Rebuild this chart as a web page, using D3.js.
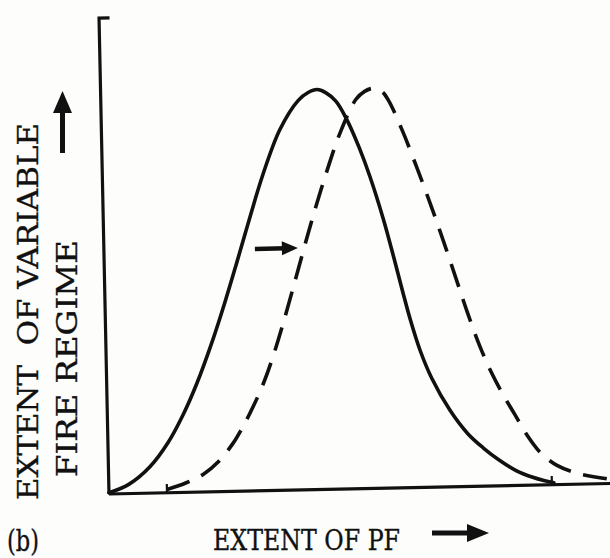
<!DOCTYPE html>
<html>
<head>
<meta charset="utf-8">
<script src="https://cdn.jsdelivr.net/npm/d3@7"></script>
<style>
  html, body { margin: 0; padding: 0; background: #fdfdfc; }
  svg { display: block; }
  text { font-family: "DejaVu Serif", "Liberation Serif", serif; fill: #111; stroke: #111; stroke-width: 0.35; white-space: pre; }
</style>
</head>
<body>
<svg id="chart" width="610" height="558"></svg>
<script>
// --- data (x: extent of PF, y: extent of variable fire regime, both 0..100)

// solid curve (present)
const solidX = [0, 4, 8.3, 12, 15.1, 18, 21.4, 24, 26.5, 29.4, 32.1, 35.7, 39.5, 41.5, 43.3, 45, 47, 49.1, 51.5, 53.5, 56, 58, 59.6, 61, 62.8, 65, 68.6, 72, 75, 78, 81.7, 84.5, 87, 89];
const solidY = [0.3, 2.3, 6.6, 12.5, 19.3, 27.1, 38, 47.4, 57.1, 68.7, 79, 90.2, 97.4, 99.3, 100, 99.2, 97, 92.4, 85.2, 78, 67.3, 57.3, 48.9, 41.9, 34.3, 27.3, 19, 13.2, 9.6, 6.6, 3.6, 2.1, 1.1, 0.5];

// dashed curve (shifted)
const dashX = [11.6, 15.5, 18.9, 22, 25, 27, 29.2, 31.5, 33.4, 35.5, 38, 40, 42, 44.9, 47.7, 51, 52.8, 54.5, 56.2, 57.5, 60.3, 63, 65.4, 67.9, 70.5, 72.5, 74.8, 77, 79.2, 81.5, 83.8, 86.5, 89.7, 94.2, 99.6];
const dashY = [0.8, 2.4, 4.4, 7.5, 12, 16, 21.1, 27.3, 33.6, 41.6, 51.9, 60.3, 68.5, 79.5, 89, 97.3, 99.3, 100, 99.2, 97, 88.9, 79.7, 71.1, 61.6, 51.2, 43.2, 34.9, 28.3, 22.8, 17.7, 12.6, 8, 4.8, 2.55, 1.2];

// small marks on the x axis where the curves start / end
const endTicks = [11.6, 88.6];

// shift arrow between the curves
const shiftArrow = { x0: 30.2, x1: 38.8, y: 60.5 };

const xLabel = "EXTENT OF PF";
const yLabel1 = "EXTENT  OF VARIABLE";
const yLabel2 = "FIRE REGIME";
const panelLabel = "(b)";

// --- layout
const svg = d3.select("#chart");
const origin = { x: 109, y: 494 };
const tilt = -1.2; // the scan is slightly rotated

const x = d3.scaleLinear().domain([0, 100]).range([0, 500]);
const y = d3.scaleLinear().domain([0, 100]).range([0, -400]);

const plot = svg.append("g")
    .attr("transform", `translate(${origin.x},${origin.y}) rotate(${tilt})`);

// axes
plot.append("line")
    .attr("x1", x(0)).attr("y1", y(0))
    .attr("x2", x(102)).attr("y2", y(0))
    .attr("stroke", "#111").attr("stroke-width", 3.2);

plot.append("path")
    .attr("d", `M${x(2.1)},${y(119)} L${x(0)},${y(119)} L${x(0)},${y(0)}`)
    .attr("fill", "none")
    .attr("stroke", "#111").attr("stroke-width", 3.2);

plot.selectAll("line.endtick")
    .data(endTicks)
    .enter()
    .append("line")
    .attr("class", "endtick")
    .attr("x1", d => x(d)).attr("x2", d => x(d))
    .attr("y1", y(0)).attr("y2", y(2.2))
    .attr("stroke", "#111").attr("stroke-width", 2.2);

// curves
const line = d3.line()
    .x(d => x(d[0]))
    .y(d => y(d[1]))
    .curve(d3.curveCatmullRom.alpha(0.5));

plot.append("path")
    .datum(d3.zip(solidX, solidY))
    .attr("d", line)
    .attr("fill", "none")
    .attr("stroke", "#111")
    .attr("stroke-width", 3.6)
    .attr("stroke-linecap", "round");

plot.append("path")
    .datum(d3.zip(dashX, dashY))
    .attr("d", line)
    .attr("fill", "none")
    .attr("stroke", "#111")
    .attr("stroke-width", 3.6)
    .attr("stroke-dasharray", "24,13");

// shift arrow
const ax0 = x(shiftArrow.x0), ax1 = x(shiftArrow.x1), ay = y(shiftArrow.y);
plot.append("line")
    .attr("x1", ax0).attr("y1", ay)
    .attr("x2", ax1 - 12).attr("y2", ay)
    .attr("stroke", "#111").attr("stroke-width", 4.5);
plot.append("path")
    .attr("d", `M${ax1},${ay} L${ax1 - 16},${ay - 7} L${ax1 - 16},${ay + 7} Z`)
    .attr("fill", "#111");

// y label (rotated) and arrow
svg.append("text")
    .attr("transform", "translate(38,500) rotate(-90)")
    .attr("font-size", 27)
    .attr("textLength", 377)
    .attr("lengthAdjust", "spacingAndGlyphs")
    .text(yLabel1);

svg.append("text")
    .attr("transform", "translate(77,477) rotate(-90)")
    .attr("font-size", 27)
    .attr("textLength", 237)
    .attr("lengthAdjust", "spacingAndGlyphs")
    .text(yLabel2);

svg.append("line")
    .attr("x1", 62.5).attr("y1", 153)
    .attr("x2", 62.5).attr("y2", 108)
    .attr("stroke", "#111").attr("stroke-width", 5);
svg.append("path")
    .attr("d", "M62.5,91 L53,113 L72,113 Z")
    .attr("fill", "#111");

// x label and arrow
svg.append("text")
    .attr("x", 213).attr("y", 550)
    .attr("font-size", 27)
    .attr("textLength", 187)
    .attr("lengthAdjust", "spacingAndGlyphs")
    .text(xLabel);

svg.append("line")
    .attr("x1", 432).attr("y1", 533)
    .attr("x2", 472).attr("y2", 533)
    .attr("stroke", "#111").attr("stroke-width", 5);
svg.append("path")
    .attr("d", "M489,533 L467,524 L467,542 Z")
    .attr("fill", "#111");

// panel label
svg.append("text")
    .attr("x", 7).attr("y", 551)
    .attr("font-size", 30)
    .attr("textLength", 32)
    .attr("lengthAdjust", "spacingAndGlyphs")
    .text(panelLabel);
</script>
</body>
</html>
